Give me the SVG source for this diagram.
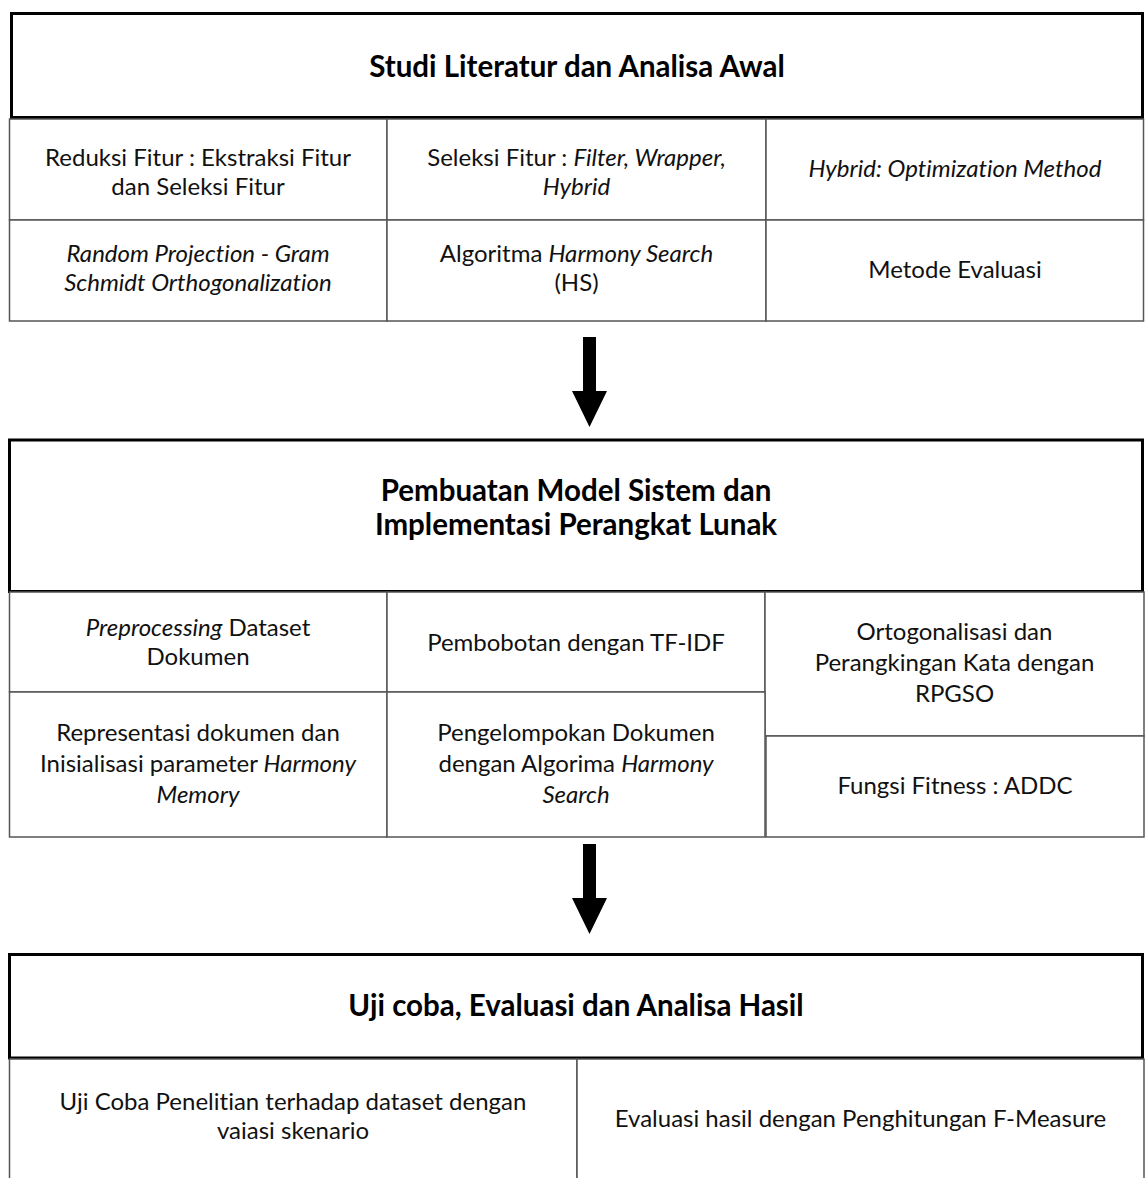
<svg xmlns="http://www.w3.org/2000/svg" width="1146" height="1178" viewBox="0 0 1146 1178">
<style>
.hdr{fill:#fff;stroke:#000;stroke-width:3}
.cell{fill:#fff;stroke:#555;stroke-width:1.5}
.t{font-family:Lato,"Open Sans","Liberation Sans",sans-serif;font-size:24px;fill:#111;text-anchor:middle;font-variant-ligatures:none}
.ti{font-style:italic}
.h{font-family:Lato,"Open Sans","Liberation Sans",sans-serif;font-size:29.5px;font-weight:bold;fill:#000;text-anchor:middle;font-variant-ligatures:none}
.arrow{fill:#000}
</style>
<rect width="1146" height="1178" fill="#fff"/>

<g id="box1">
  <rect class="hdr" x="11.5" y="13.5" width="1131" height="104"/>
  <text class="h" x="577" y="77">Studi Literatur dan Analisa Awal</text>
</g>
<g id="b1c1">
  <rect class="cell" x="9.5" y="119" width="377.5" height="101"/>
  <text class="t" x="198" y="166">Reduksi Fitur : Ekstraksi Fitur</text>
  <text class="t" x="198" y="195">dan Seleksi Fitur</text>
</g>
<g id="b1c2">
  <rect class="cell" x="387" y="119" width="379" height="101"/>
  <text class="t" x="576.5" y="166">Seleksi Fitur : <tspan class="ti">Filter, Wrapper,</tspan></text>
  <text class="t ti" x="576.5" y="195">Hybrid</text>
</g>
<g id="b1c3">
  <rect class="cell" x="766" y="119" width="377.5" height="101"/>
  <text class="t ti" x="955" y="177">Hybrid: Optimization Method</text>
</g>
<g id="b1c4">
  <rect class="cell" x="9.5" y="220" width="377.5" height="101"/>
  <text class="t ti" x="198" y="262">Random Projection - Gram</text>
  <text class="t ti" x="198" y="291">Schmidt Orthogonalization</text>
</g>
<g id="b1c5">
  <rect class="cell" x="387" y="220" width="379" height="101"/>
  <text class="t" x="576.5" y="262">Algoritma <tspan class="ti">Harmony Search</tspan></text>
  <text class="t" x="576.5" y="291">(HS)</text>
</g>
<g id="b1c6">
  <rect class="cell" x="766" y="220" width="377.5" height="101"/>
  <text class="t" x="955" y="278">Metode Evaluasi</text>
</g>

<g id="box2">
  <rect class="hdr" x="9.5" y="440" width="1133" height="151.5"/>
  <text class="h" x="576" y="501">Pembuatan Model Sistem dan</text>
  <text class="h" x="576" y="535">Implementasi Perangkat Lunak</text>
</g>
<g id="b2c1">
  <rect class="cell" x="9.5" y="592" width="377.5" height="100"/>
  <text class="t" x="198" y="636"><tspan class="ti">Preprocessing</tspan> Dataset</text>
  <text class="t" x="198" y="665">Dokumen</text>
</g>
<g id="b2c2">
  <rect class="cell" x="387" y="592" width="378" height="100"/>
  <text class="t" x="576" y="651">Pembobotan dengan TF-IDF</text>
</g>
<g id="b2c3">
  <rect class="cell" x="765" y="592" width="379" height="144"/>
  <text class="t" x="954.5" y="640">Ortogonalisasi dan</text>
  <text class="t" x="954.5" y="671">Perangkingan Kata dengan</text>
  <text class="t" x="954.5" y="702">RPGSO</text>
</g>
<g id="b2c4">
  <rect class="cell" x="9.5" y="692" width="377.5" height="145"/>
  <text class="t" x="198" y="741">Representasi dokumen dan</text>
  <text class="t" x="198" y="772">Inisialisasi parameter <tspan class="ti">Harmony</tspan></text>
  <text class="t ti" x="198" y="803">Memory</text>
</g>
<g id="b2c5">
  <rect class="cell" x="387" y="692" width="378" height="145"/>
  <text class="t" x="576" y="741">Pengelompokan Dokumen</text>
  <text class="t" x="576" y="772">dengan Algorima <tspan class="ti">Harmony</tspan></text>
  <text class="t ti" x="576" y="803">Search</text>
</g>
<g id="b2c6">
  <rect class="cell" x="766" y="736" width="378" height="101"/>
  <text class="t" x="955" y="794">Fungsi Fitness : ADDC</text>
</g>

<g id="box3">
  <rect class="hdr" x="9.5" y="954.5" width="1133" height="103.5"/>
  <text class="h" x="576" y="1016">Uji coba, Evaluasi dan Analisa Hasil</text>
</g>
<g id="b3c1">
  <rect class="cell" x="9.5" y="1059" width="567.5" height="130"/>
  <text class="t" x="293" y="1110">Uji Coba Penelitian terhadap dataset dengan</text>
  <text class="t" x="293" y="1139">vaiasi skenario</text>
</g>
<g id="b3c2">
  <rect class="cell" x="577" y="1059" width="567" height="130"/>
  <text class="t" x="860.5" y="1127">Evaluasi hasil dengan Penghitungan F-Measure</text>
</g>

<g id="connectors">
  <polygon class="arrow" points="583,337 596,337 596,391 607,391 589.5,427 572,391 583,391"/>
  <polygon class="arrow" points="583,844 596,844 596,898 607,898 589.5,934 572,898 583,898"/>
</g>
</svg>
